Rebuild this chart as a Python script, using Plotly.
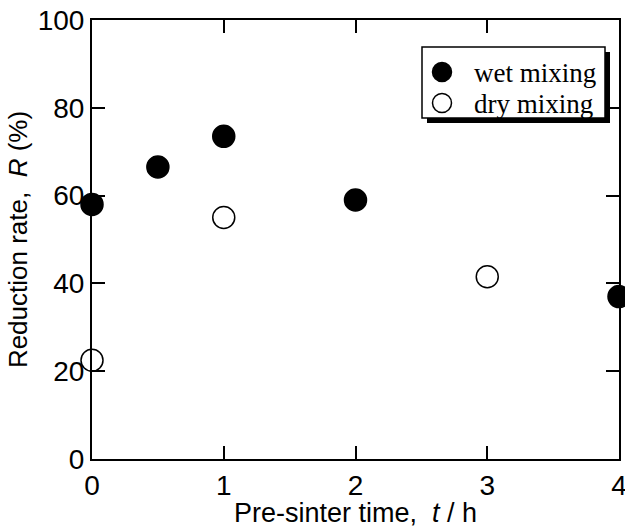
import plotly.graph_objects as go

wet_t = [0, 0.5, 1, 2, 4]
wet_r = [58, 66.5, 73.5, 59, 37]
dry_t = [0, 1, 3]
dry_r = [22.5, 55, 41.5]

x_ticks = [0, 1, 2, 3, 4]
y_ticks = [0, 20, 40, 60, 80, 100]

SANS = "Liberation Sans, Arial"
SERIF = "Liberation Serif, Times New Roman"

fig = go.Figure()
fig.add_trace(go.Scatter(x=wet_t, y=wet_r, mode="markers", name="wet mixing",
                         marker=dict(size=22, color="black", line=dict(color="black", width=1.5)),
                         cliponaxis=False, showlegend=False))
fig.add_trace(go.Scatter(x=dry_t, y=dry_r, mode="markers", name="dry mixing",
                         marker=dict(size=22, color="white", line=dict(color="black", width=1.5)),
                         cliponaxis=False, showlegend=False))

axis_common = dict(showline=True, linecolor="black", linewidth=2, mirror="ticks",
                   ticks="inside", ticklen=13, tickwidth=2, tickcolor="black",
                   showgrid=False, zeroline=False, automargin=False,
                   ticklabeloverflow="allow",
                   tickfont=dict(family=SANS, size=28, color="black"))

fig.update_xaxes(range=[0, 4], tickvals=x_ticks, ticktext=[str(v) for v in x_ticks],
                 title=dict(text="Pre-sinter time,&nbsp; <i>t</i> / h", standoff=6,
                            font=dict(family=SANS, size=27, color="black")),
                 **axis_common)
fig.update_yaxes(range=[0, 100], tickvals=y_ticks, ticktext=[str(v) for v in y_ticks],
                 title=dict(text="Reduction rate,&nbsp; <i>R</i> (%)", standoff=3,
                            font=dict(family=SANS, size=26, color="black")),
                 **axis_common)

# ---- legend drawn as a framed box with shadow ----
X0, W, YB, H = 92, 527, 459, 439
def px(x): return (x - X0) / W
def py(y): return (YB - y) / H

fig.add_shape(type="rect", xref="paper", yref="paper",
              x0=px(427), x1=px(610), y0=py(123), y1=py(52),
              fillcolor="black", line=dict(width=0), layer="above")
fig.add_shape(type="rect", xref="paper", yref="paper",
              x0=px(422), x1=px(605), y0=py(118), y1=py(47),
              fillcolor="white", line=dict(color="black", width=1.5), layer="above")

legend_names = ["wet mixing", "dry mixing"]
legend_fill = ["black", "white"]
row_y = [72, 103]
for name, fill, ry in zip(legend_names, legend_fill, row_y):
    fig.add_shape(type="circle", xref="paper", yref="paper",
                  x0=px(432.5), x1=px(451.5), y0=py(ry + 9.5), y1=py(ry - 9.5),
                  fillcolor=fill, line=dict(color="black", width=1.5), layer="above")
    fig.add_annotation(xref="paper", yref="paper", x=px(472), y=py(ry + 1),
                       text=name, showarrow=False, xanchor="left", yanchor="middle",
                       font=dict(family=SERIF, size=27, color="black"))

fig.update_layout(
    width=625, height=528,
    margin=dict(l=92, r=6, t=20, b=69),
    paper_bgcolor="white", plot_bgcolor="white",
    showlegend=False,
)

fig.write_html("out.html")
